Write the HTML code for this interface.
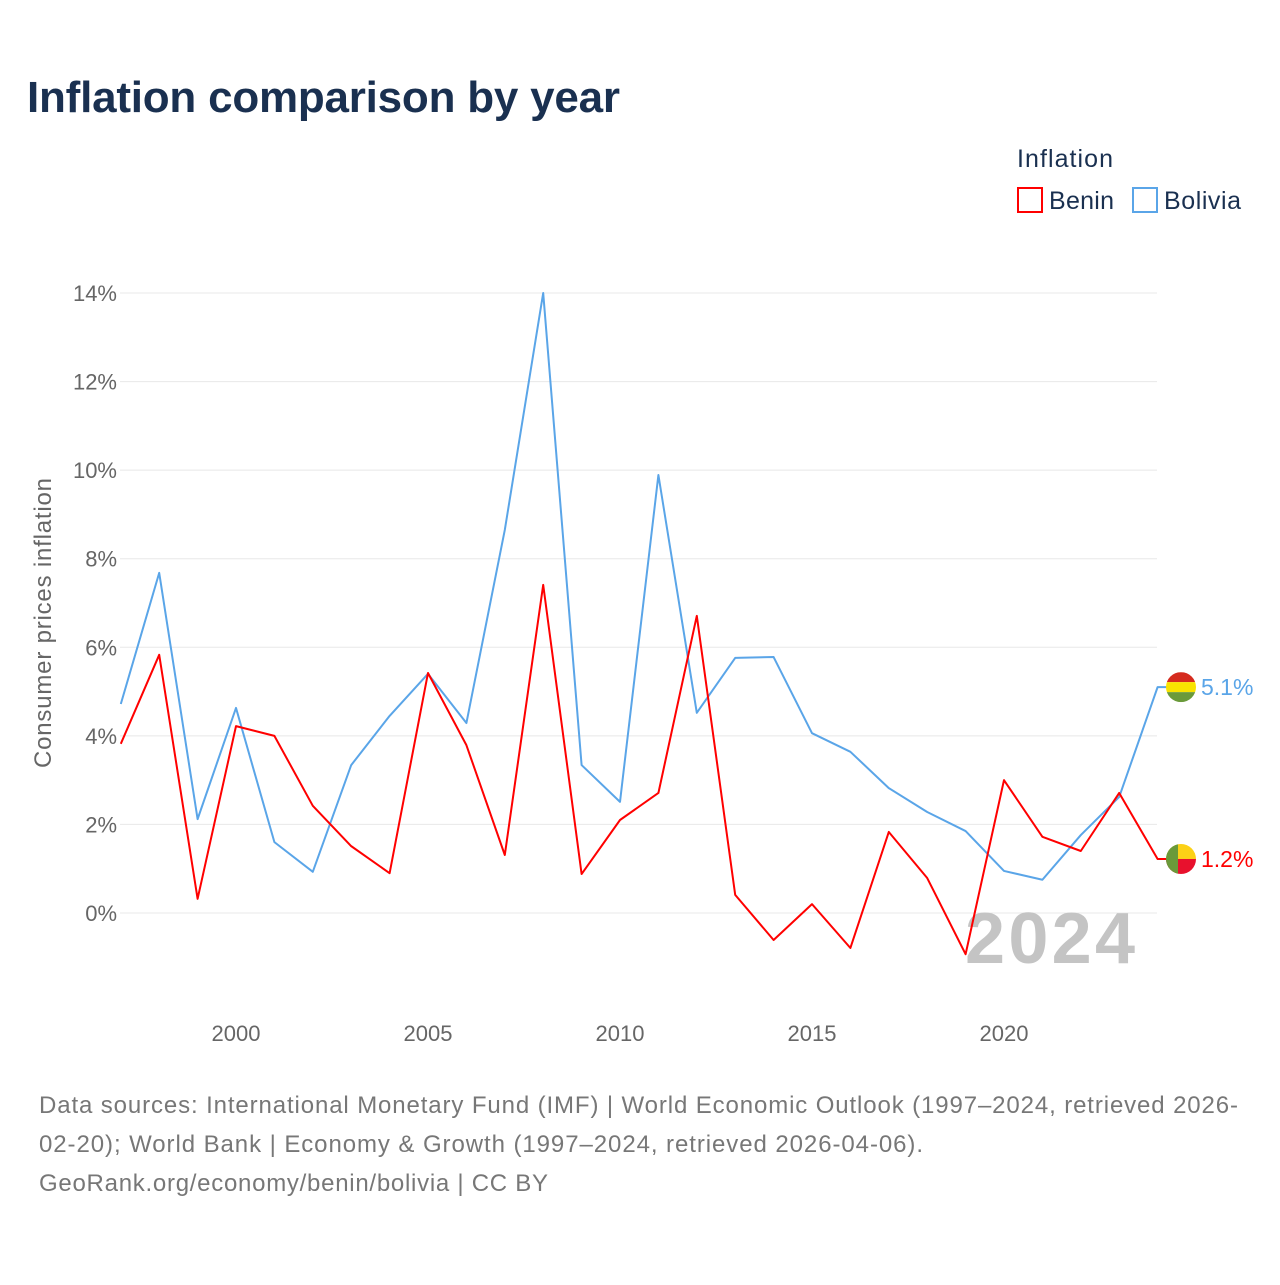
<!DOCTYPE html>
<html><head><meta charset="utf-8"><style>
body{margin:0;background:#fff;font-family:"Liberation Sans",sans-serif}
</style></head><body>
<svg width="1280" height="1280" xmlns="http://www.w3.org/2000/svg" style="font-family:'Liberation Sans',sans-serif">
<text x="27" y="112" font-size="44" font-weight="bold" fill="#1a3050" textLength="593">Inflation comparison by year</text>
<g>
<text x="1017" y="167" font-size="25" fill="#1a3050" textLength="96">Inflation</text>
<g><rect x="1018" y="188" width="24" height="24" fill="none" stroke="#f00" stroke-width="2"/><text x="1049" y="209" font-size="25" fill="#1a3050" textLength="65">Benin</text></g>
<g><rect x="1133" y="188" width="24" height="24" fill="none" stroke="#5aa5e8" stroke-width="2"/><text x="1164" y="209" font-size="25" fill="#1a3050" textLength="77">Bolivia</text></g>
</g>
<g id="grid"></g><g id="yt"></g><g id="xt"></g>
<text x="965" y="963" font-size="72" font-weight="bold" fill="#c4c4c4" textLength="170">2024</text>
<g id="lines"></g>
<text transform="translate(51,623) rotate(-90)" font-size="24" fill="#666" text-anchor="middle" textLength="290">Consumer prices inflation</text>
<g font-size="24" fill="#777">
<text x="39" y="1113" textLength="1199">Data sources: International Monetary Fund (IMF) | World Economic Outlook (1997–2024, retrieved 2026-</text>
<text x="39" y="1152" textLength="884">02-20); World Bank | Economy &amp; Growth (1997–2024, retrieved 2026-04-06).</text>
<text x="39" y="1191" textLength="509">GeoRank.org/economy/benin/bolivia | CC BY</text>
</g>
</svg>
<script>
const years=[1997,1998,1999,2000,2001,2002,2003,2004,2005,2006,2007,2008,2009,2010,2011,2012,2013,2014,2015,2016,2017,2018,2019,2020,2021,2022,2023,2024];
const benin=[3.82,5.83,0.32,4.22,4.0,2.42,1.51,0.9,5.42,3.79,1.31,7.41,0.88,2.1,2.71,6.71,0.41,-0.61,0.2,-0.79,1.83,0.79,-0.93,3.0,1.72,1.4,2.71,1.22];
const bolivia=[4.72,7.68,2.12,4.63,1.6,0.93,3.34,4.45,5.4,4.29,8.65,14.0,3.34,2.51,9.89,4.52,5.76,5.78,4.06,3.64,2.82,2.28,1.85,0.95,0.75,1.76,2.62,5.1];
const yTicks=[0,2,4,6,8,10,12,14];
const xTicks=[2000,2005,2010,2015,2020];
const NS="http://www.w3.org/2000/svg";
const X=v=>236+(v-2000)*38.4, Y=v=>913-v*44.286;
function mk(t,a,p){const e=document.createElementNS(NS,t);for(const k in a)e.setAttribute(k,a[k]);document.getElementById(p).appendChild(e);return e;}
yTicks.forEach(v=>{
 const l=mk('line',{x1:120,x2:1157,y1:Y(v),y2:Y(v),stroke:'#e8e8e8','stroke-width':1},'grid');
 
 
 const t=mk('text',{x:117,y:Y(v)+8,'font-size':22,fill:'#666','text-anchor':'end'},'yt');t.textContent=v+'%';
 
 
});
xTicks.forEach(v=>{
 const t=mk('text',{x:X(v),y:1041,'font-size':22,fill:'#666','text-anchor':'middle'},'xt');t.textContent=v;
 
 
});
function series(d,c,name,flag){
 const pts=d.map((v,i)=>X(years[i])+','+Y(v)).join(' ');
 const last=d[d.length-1];
 const p=mk('polyline',{points:pts+' '+(X(2024)+10)+','+Y(last),fill:'none',stroke:c,'stroke-width':2,'stroke-linejoin':'round'},'lines');
 
 
 const cx=1181,cy=Y(last);
 const g=mk('g',{},'lines');
 
 
 if(flag==='bo'){
  g.innerHTML=`<clipPath id="cb"><circle cx="${cx}" cy="${cy}" r="15"/></clipPath><g clip-path="url(#cb)"><rect x="${cx-15}" y="${cy-15}" width="30" height="10" fill="#d52b1e"/><rect x="${cx-15}" y="${cy-5}" width="30" height="10" fill="#f9e300"/><rect x="${cx-15}" y="${cy+5}" width="30" height="10" fill="#6a9a3a"/></g>`;
 }else{
  g.innerHTML=`<clipPath id="cn"><circle cx="${cx}" cy="${cy}" r="15"/></clipPath><g clip-path="url(#cn)"><rect x="${cx-15}" y="${cy-15}" width="30" height="15" fill="#fcd116"/><rect x="${cx-15}" y="${cy}" width="30" height="15" fill="#e8112d"/><rect x="${cx-15}" y="${cy-15}" width="12" height="30" fill="#6a9a3a"/></g>`;
 }
 const t=mk('text',{x:1201,y:cy+8,'font-size':23,fill:c},'lines');t.textContent=last.toFixed(1)+'%';
 
 
}
series(bolivia,'#5aa5e8','bolivia','bo');
series(benin,'#f00','benin','bj');
</script>
</body></html>
